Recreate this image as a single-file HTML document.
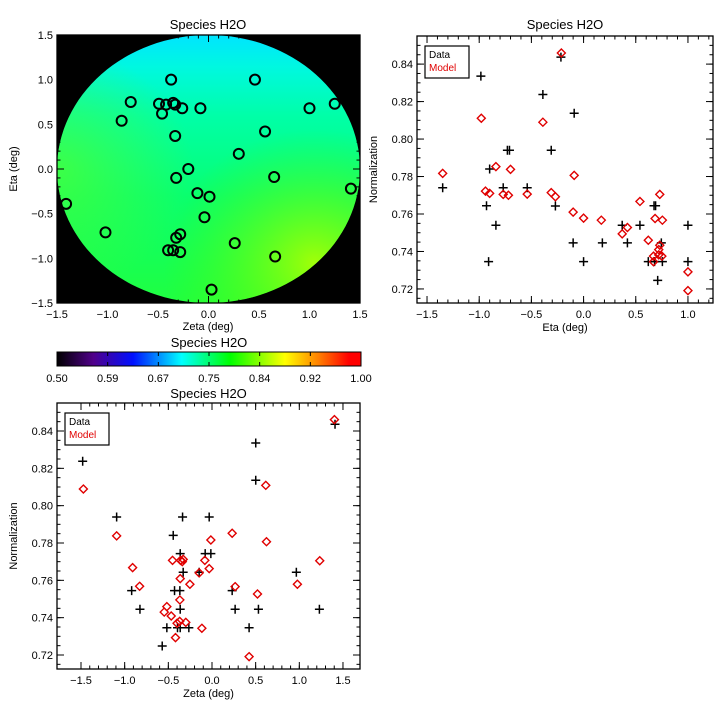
<!DOCTYPE html>
<html><head><meta charset="utf-8"><style>
body{margin:0;background:#fff;width:720px;height:720px;overflow:hidden}
svg text{font-family:"Liberation Sans",sans-serif;fill:#000}
</style></head><body>
<svg id="s" width="720" height="720" viewBox="0 0 720 720" xmlns="http://www.w3.org/2000/svg">
<defs>
<linearGradient id="disc" x1="0" y1="0" x2="0" y2="1">
<stop offset="0" stop-color="#00e4ff"/><stop offset="0.12" stop-color="#00f8e0"/><stop offset="0.3" stop-color="#00ffa8"/>
<stop offset="0.6" stop-color="#08ff70"/><stop offset="1" stop-color="#20ff40"/></linearGradient>
<radialGradient id="yel" cx="0.85" cy="0.85" r="0.5"><stop offset="0" stop-color="#b0ff00" stop-opacity="0.9"/><stop offset="1" stop-color="#40ff00" stop-opacity="0"/></radialGradient>
<radialGradient id="lft" cx="0" cy="0.5" r="0.45"><stop offset="0" stop-color="#60ff20" stop-opacity="0.6"/><stop offset="1" stop-color="#60ff20" stop-opacity="0"/></radialGradient>
<linearGradient id="cbar" x1="0" y1="0" x2="1" y2="0">
<stop offset="0" stop-color="#000"/><stop offset="0.12" stop-color="#50008a"/><stop offset="0.25" stop-color="#0010ff"/>
<stop offset="0.41" stop-color="#00ffff"/><stop offset="0.57" stop-color="#00ff00"/><stop offset="0.75" stop-color="#ffff00"/>
<stop offset="0.86" stop-color="#ff8000"/><stop offset="0.96" stop-color="#ff0000"/><stop offset="1" stop-color="#ff0000"/></linearGradient>
</defs>
</svg>
<script>
// Map panel circles
const mapZeta=[-0.37,0.46,-0.77,-0.49,-0.42,-0.35,-0.33,-0.26,-0.46,-0.08,1.0,1.25,-0.86,-0.33,0.56,0.30,-0.2,-0.32,0.65,1.41,-1.41,-0.11,0.01,-0.04,-1.02,-0.28,-0.32,-0.40,-0.35,-0.28,0.26,0.66,0.03];
const mapEta=[1.0,1.0,0.75,0.73,0.72,0.74,0.72,0.68,0.62,0.68,0.68,0.73,0.54,0.37,0.42,0.17,0.0,-0.1,-0.09,-0.22,-0.39,-0.27,-0.31,-0.54,-0.71,-0.73,-0.77,-0.91,-0.91,-0.93,-0.83,-0.98,-1.35];
// Eta panel
const etaDataX=[-0.984,-0.217,-0.39,-0.09,-0.73,-0.71,-0.31,-0.90,-1.35,-0.77,-0.54,-0.93,-0.27,-0.84,-0.91,-0.10,0.0,0.18,0.37,0.42,0.54,0.675,0.69,0.62,0.68,0.755,0.745,0.71,1.0,1.0];
const etaDataY=[0.8336,0.8437,0.8238,0.8138,0.794,0.794,0.794,0.784,0.774,0.774,0.774,0.7644,0.7643,0.754,0.7346,0.7446,0.7346,0.7446,0.754,0.7446,0.754,0.7644,0.7644,0.7346,0.7346,0.7346,0.7446,0.7246,0.754,0.7346];
const etaModelX=[-0.213,-0.98,-0.39,-1.35,-0.84,-0.70,-0.09,-0.94,-0.90,-0.77,-0.72,-0.54,-0.31,-0.27,-0.10,0.0,0.17,0.37,0.42,0.54,0.62,0.685,0.73,0.755,0.67,0.72,0.67,0.72,0.75,0.73,1.0,1.0];
const etaModelY=[0.8459,0.8111,0.809,0.7817,0.7853,0.7838,0.7806,0.7722,0.771,0.7705,0.770,0.7706,0.7714,0.7692,0.761,0.7578,0.7567,0.7494,0.7528,0.7667,0.746,0.7576,0.7705,0.7567,0.7375,0.741,0.7345,0.7382,0.7375,0.7433,0.7291,0.7191];
// Zeta panel
const zetaDataX=[-1.481,0.501,0.501,1.409,-1.092,-0.337,-0.032,-0.444,-0.364,-0.078,-0.013,-0.330,-0.147,0.966,-0.920,-0.429,-0.368,0.231,-0.825,-0.364,0.265,0.532,1.230,-0.517,-0.395,-0.364,-0.265,0.425,-0.570];
const zetaDataY=[0.8238,0.8336,0.8136,0.8436,0.7939,0.7939,0.7939,0.7841,0.7743,0.7743,0.7743,0.7643,0.7643,0.7643,0.7545,0.7545,0.7545,0.7545,0.7445,0.7445,0.7445,0.7445,0.7445,0.7346,0.7346,0.7346,0.7346,0.7346,0.7248];
const zetaModelX=[1.402,-1.473,0.616,-1.092,0.231,-0.013,0.624,-0.909,-0.452,-0.36,-0.33,-0.34,-0.082,-0.032,-0.147,-0.364,-0.253,-0.829,0.265,0.978,1.234,0.521,-0.368,-0.517,-0.547,-0.467,-0.40,-0.37,-0.30,-0.116,-0.418,0.425];
const zetaModelY=[0.8461,0.8089,0.8109,0.7838,0.7852,0.7816,0.7807,0.7668,0.7707,0.7707,0.7712,0.770,0.7707,0.7663,0.764,0.7609,0.7579,0.7568,0.7566,0.7579,0.7705,0.7527,0.7495,0.7459,0.743,0.7409,0.737,0.738,0.7375,0.7343,0.7293,0.7191];
const mapTicks=[-1.5,-1.0,-0.5,0.0,0.5,1.0,1.5];
const etaTicks=[-1.5,-1.0,-0.5,0.0,0.5,1.0];
const normTicks=[0.72,0.74,0.76,0.78,0.80,0.82,0.84];
const cbarLabels=["0.50","0.59","0.67","0.75","0.84","0.92","1.00"];

const NS="http://www.w3.org/2000/svg";
const svg=document.getElementById('s');
function el(t,a,p){const e=document.createElementNS(NS,t);for(const k in a)e.setAttribute(k,a[k]);(p||svg).appendChild(e);return e;}
function txt(x,y,s,size,anchor,color,rot){const e=el('text',{x:x,y:y,'font-size':size,'text-anchor':anchor||'middle'});if(color)e.setAttribute('style','fill:'+color);if(rot)e.setAttribute('transform','rotate(-90 '+x+' '+y+')');e.textContent=s;return e;}
function scale(d0,d1,r0,r1){return v=>r0+(v-d0)/(d1-d0)*(r1-r0);}

function axes(name,L,T,R,B,xs,ys,xt,yt,xMinorStep,yMinorStep,xfmt,yfmt,xr,yr){
  const g=el('g',{});
  
  
  el('rect',{x:L,y:T,width:R-L,height:B-T,fill:'none',stroke:'#000','stroke-width':1.3},g);
  for(const v of xt){const x=xs(v);
    el('line',{x1:x,y1:B,x2:x,y2:B-7,stroke:'#000'},g);el('line',{x1:x,y1:T,x2:x,y2:T+7,stroke:'#000'},g);
    const t=txt(x,B+15,xfmt(v),11);}
  for(let v=xr[0];v<=xr[1]+1e-9;v+=xMinorStep){const x=xs(v);if(x<L||x>R)continue;
    el('line',{x1:x,y1:B,x2:x,y2:B-3.5,stroke:'#000'},g);el('line',{x1:x,y1:T,x2:x,y2:T+3.5,stroke:'#000'},g);}
  for(const v of yt){const y=ys(v);
    el('line',{x1:L,y1:y,x2:L+7,y2:y,stroke:'#000'},g);el('line',{x1:R,y1:y,x2:R-7,y2:y,stroke:'#000'},g);
    const t=txt(L-4,y+4,yfmt(v),11,'end');}
  for(let v=yr[0];v<=yr[1]+1e-9;v+=yMinorStep){const y=ys(v);if(y<T||y>B)continue;
    el('line',{x1:L,y1:y,x2:L+3.5,y2:y,stroke:'#000'},g);el('line',{x1:R,y1:y,x2:R-3.5,y2:y,stroke:'#000'},g);}
}
const f1=v=>(v<0?'\u2212':'')+Math.abs(v).toFixed(1);
const f2=v=>v.toFixed(2);

// ---- Map panel
{const L=57,T=35,R=360,B=303;
 const xs=scale(-1.5,1.5,L,R),ys=scale(-1.5,1.5,B,T);
 const bg=el('rect',{x:L,y:T,width:R-L,height:B-T,fill:'#000'});
 
 const cx=xs(0),cy=ys(0),rx=xs(1.5)-xs(0),ry=ys(-1.5)-ys(0);
 const d=el('ellipse',{cx:cx,cy:cy,rx:rx,ry:ry,fill:'url(#disc)'});
 
 el('ellipse',{cx:cx,cy:cy,rx:rx,ry:ry,fill:'url(#yel)'});
 el('ellipse',{cx:cx,cy:cy,rx:rx,ry:ry,fill:'url(#lft)'});
 axes('map',L,T,R,B,xs,ys,mapTicks,mapTicks,0.1,0.1,f1,f1,[-1.5,1.5],[-1.5,1.5]);
 for(let i=0;i<mapZeta.length;i++){
  const c=el('circle',{cx:xs(mapZeta[i]),cy:ys(mapEta[i]),r:5,fill:'none',stroke:'#000','stroke-width':2});
  
  }
 let t=txt(208,29,'Species H2O',13);
 t=txt(208,330,'Zeta (deg)',11);
 t=txt(17,169,'Eta (deg)',11,'middle',null,true);
}
// ---- Colorbar
{const L=57,R=361,T=352,B=366;
 let t=txt(209,347,'Species H2O',13);
 const r=el('rect',{x:L,y:T,width:R-L,height:B-T,fill:'url(#cbar)',stroke:'#000'});
 
 for(let i=0;i<cbarLabels.length;i++){const x=L+(R-L)*i/(cbarLabels.length-1);
  el('line',{x1:x,y1:B,x2:x,y2:B-4,stroke:'#000'});el('line',{x1:x,y1:T,x2:x,y2:T+4,stroke:'#000'});
  t=txt(x,382,cbarLabels[i],11);}
}
function scatter(name,L,T,R,B,xr,xt,xlabel,dx,dy,mx,my,titleY){
 const xs=scale(xr[0],xr[1],L,R),ys=scale(0.7125,0.855,B,T);
 axes(name,L,T,R,B,xs,ys,xt,normTicks,0.1,0.005,f1,f2,[-1.5,1.5],[0.715,0.855]);
 for(let i=0;i<dx.length;i++){const x=xs(dx[i]),y=ys(dy[i]);
  const p=el('path',{d:`M${x-4.5} ${y}H${x+4.5}M${x} ${y-4.5}V${y+4.5}`,stroke:'#000','stroke-width':1.5});
  
  }
 for(let i=0;i<mx.length;i++){const x=xs(mx[i]),y=ys(my[i]);
  const p=el('path',{d:`M${x} ${y-4}L${x+4} ${y}L${x} ${y+4}L${x-4} ${y}Z`,stroke:'#e00000','stroke-width':1.4,fill:'none'});
  
  }
 const lg=el('g',{});
 el('rect',{x:L+8,y:T+10,width:44,height:32,fill:'#fff',stroke:'#000','stroke-width':1.2},lg);
 let t=txt(L+12,T+22,'Data',10,'start');
 t=txt(L+12,T+35,'Model',10,'start','#e00000');
 t=txt((L+R)/2,titleY,'Species H2O',13);
 t=txt((L+R)/2,B+28,xlabel,11);
 t=txt(L-40,(T+B)/2,'Normalization',11,'middle',null,true);
}
scatter('eta-plot',417,36,713,303,[-1.596,1.24],etaTicks,'Eta (deg)',etaDataX,etaDataY,etaModelX,etaModelY,29);
scatter('zeta-plot',57,403,360,669,[-1.775,1.695],mapTicks,'Zeta (deg)',zetaDataX,zetaDataY,zetaModelX,zetaModelY,398);
</script>
</body></html>
